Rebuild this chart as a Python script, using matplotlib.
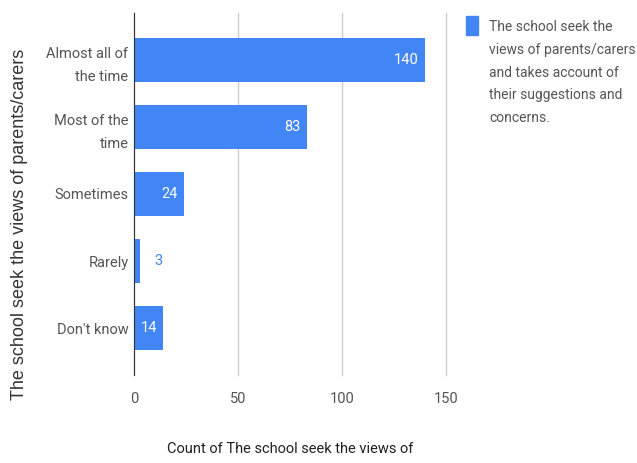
import matplotlib.pyplot as plt

categories = ['Almost all of\nthe time', 'Most of the\ntime', 'Sometimes', 'Rarely', "Don't know"]
counts = [140, 83, 24, 3, 14]
x_ticks = [0, 50, 100, 150]
legend_text = ('The school seek the\nviews of parents/carers\nand takes account of\n'
               'their suggestions and\nconcerns.')

blue = '#4285f4'
grey = '#555555'

plt.rcParams['font.family'] = ['Roboto', 'DejaVu Sans']

fig = plt.figure(figsize=(6.37, 4.63), dpi=100)
ax = fig.add_axes([0.2104, 0.190, 0.4898, 0.782])

pos = list(range(len(categories)))
ax.barh(pos, counts, height=0.65, color=blue, zorder=3)

for p, v in zip(pos, counts):
    if v >= 10:
        ax.text(v - 3, p, str(v), color='white', fontsize=10.5, ha='right', va='center', zorder=4)
    else:
        ax.text(v + 7, p, str(v), color=blue, fontsize=10.5, ha='left', va='center', zorder=4)

ax.set_yticks(pos)
ax.set_yticklabels(categories, fontsize=10.5, color=grey, linespacing=1.75)
ax.set_ylim(4.7, -0.7)
ax.set_xlim(0, 150)
ax.set_xticks(x_ticks)
ax.set_xticklabels([str(t) for t in x_ticks], fontsize=10.5, color=grey)
ax.tick_params(length=0, pad=4)
ax.tick_params(axis='x', pad=12)
ax.grid(axis='x', color='#cccccc', linewidth=1, zorder=0)
for line in ax.get_xgridlines():
    line.set_clip_on(False)
for s in ['top', 'right', 'bottom']:
    ax.spines[s].set_visible(False)
ax.spines['left'].set_color('#333333')
ax.spines['left'].set_zorder(5)

ax.set_xlabel('Count of The school seek the views of', fontsize=10.5, color='#222222', labelpad=26)
fig.text(0.031, 1 - 224 / 463, 'The school seek the views of parents/carers', rotation=90,
         fontsize=13, color='#333333', ha='center', va='center', family='Liberation Sans')

# legend
fig.patches.append(plt.Rectangle((466 / 637, 1 - 35 / 463), 12 / 637, 19 / 463,
                                 transform=fig.transFigure, color=blue))
fig.text(489 / 637, 1 - 20 / 463, legend_text, fontsize=10, color=grey, va='top',
         linespacing=1.8)

plt.savefig('out.png', dpi=100)
